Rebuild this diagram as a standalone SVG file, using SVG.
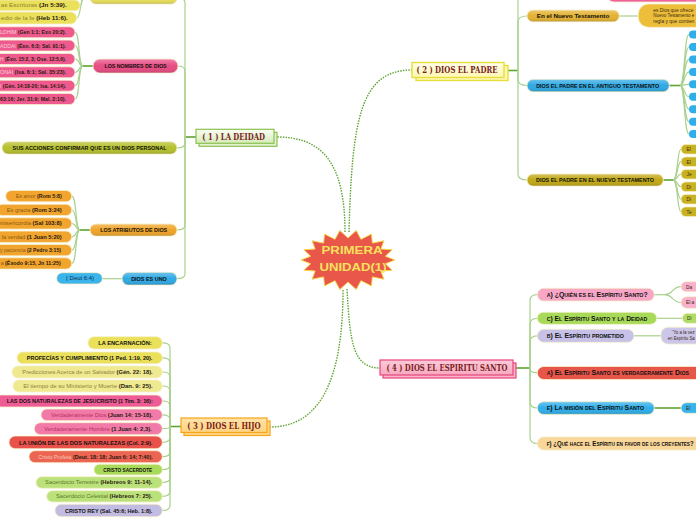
<svg xmlns="http://www.w3.org/2000/svg" width="696" height="520" viewBox="0 0 696 520">
<defs>
<linearGradient id="sh" x1="0" y1="0" x2="0" y2="1">
<stop offset="0" stop-color="#fff" stop-opacity="0.3"/>
<stop offset="0.5" stop-color="#fff" stop-opacity="0"/>
<stop offset="1" stop-color="#000" stop-opacity="0.14"/>
</linearGradient>
<linearGradient id="gDei" x1="0" y1="0" x2="0" y2="1"><stop offset="0" stop-color="#FAFDF4"/><stop offset="1" stop-color="#D4EBB8"/></linearGradient>
<linearGradient id="gPad" x1="0" y1="0" x2="0" y2="1"><stop offset="0" stop-color="#FFFEEA"/><stop offset="1" stop-color="#FFF7B0"/></linearGradient>
<linearGradient id="gHij" x1="0" y1="0" x2="0" y2="1"><stop offset="0" stop-color="#FFE4A8"/><stop offset="1" stop-color="#FFD27E"/></linearGradient>
<linearGradient id="gEsp" x1="0" y1="0" x2="0" y2="1"><stop offset="0" stop-color="#FCCAD8"/><stop offset="1" stop-color="#F7A9C1"/></linearGradient>
</defs>
<style>
.c{fill:none;stroke:#A9D18E;stroke-width:1.2}
.cd{fill:none;stroke:#5FA331;stroke-width:1.6}
.dot{fill:none;stroke:#5FA331;stroke-width:1.4;stroke-dasharray:1.5 1.2}
.p{stroke:#F6EFC8;stroke-width:0.8}
.g{fill:url(#sh)}
.h{font-family:"Liberation Sans",Arial,sans-serif;font-weight:bold;font-size:6px;fill:#111}
.e{font-family:"Liberation Sans",Arial,sans-serif;font-size:5.1px}
.r{font-weight:bold;fill:#2A1A10}
.t{font-family:"DejaVu Serif","Liberation Serif",serif;font-weight:bold;font-size:9px;fill:#7A1D1D}
.sc{font-family:"Liberation Sans",Arial,sans-serif;font-weight:bold;font-size:6.5px;font-variant:small-caps;fill:#111}
.b{font-family:"Liberation Sans",Arial,sans-serif;font-size:4.8px;fill:#3A2A10}
</style>
<rect width="696" height="520" fill="#fff"/>

<g id="connectors">
<path class="dot" d="M349,232 C352,120 360,70 412,70"/>
<path class="dot" d="M345,232 C345,160 320,137 277,137"/>
<path class="dot" d="M347,289 C350,340 352,368 380,368"/>
<path class="dot" d="M343,290 C343,380 320,427 270,427"/>
<path class="cd" d="M196,137 H185"/>
<path class="c" d="M185,137 V3 Q185,-2 177,-2"/>
<path class="c" d="M185,137 V71 Q185,66 178,66"/>
<path class="c" d="M185,137 V143 Q185,148 177,148"/>
<path class="c" d="M185,137 V225 Q185,230 177,230"/>
<path class="c" d="M185,137 V273.7 Q185,278.7 177,278.7"/>
<path class="cd" d="M90,-2 H84"/>
<path class="c" d="M84,-2 C80,-2 83,5.3 80,5.3"/>
<path class="c" d="M84,-2 C80,-2 81,18 76.7,18"/>
<path class="cd" d="M93,66 H83"/>
<path class="c" d="M83,66 C78,66 80,32.3 75,32.3"/>
<path class="c" d="M83,66 C78,66 80,45.6 75,45.6"/>
<path class="c" d="M83,66 C78,66 80,59 75,59"/>
<path class="c" d="M83,66 C78,66 80,72.3 75,72.3"/>
<path class="c" d="M83,66 C78,66 80,85.7 75,85.7"/>
<path class="c" d="M83,66 C78,66 80,99 75,99"/>
<path class="cd" d="M90,230 H80"/>
<path class="c" d="M80,230 C75,230 77,196.2 71.7,196.2"/>
<path class="c" d="M80,230 C75,230 77,210 71.7,210"/>
<path class="c" d="M80,230 C75,230 77,223.5 71.7,223.5"/>
<path class="c" d="M80,230 C75,230 77,236.8 71.7,236.8"/>
<path class="c" d="M80,230 C75,230 77,250.2 71.7,250.2"/>
<path class="c" d="M80,230 C75,230 77,263.5 71.7,263.5"/>
<path class="c" d="M122,278.7 H102.3"/>
<path class="cd" d="M508,70.5 H518"/>
<path class="c" d="M518,70.5 V-12"/>
<path class="c" d="M518,70.5 V22 Q518,16 527,16"/>
<path class="c" d="M518,70.5 V79.5 Q518,85.5 527,85.5"/>
<path class="c" d="M518,70.5 V174 Q518,180 527,180"/>
<path class="c" d="M619.3,16 H638.3"/>
<path class="cd" d="M669.3,85.5 H680"/>
<path class="c" d="M680,85.5 C685,85.5 684,34.5 689,34.5"/>
<path class="c" d="M680,85.5 C685,85.5 684,47 689,47"/>
<path class="c" d="M680,85.5 C685,85.5 684,59.4 689,59.4"/>
<path class="c" d="M680,85.5 C685,85.5 684,71.9 689,71.9"/>
<path class="c" d="M680,85.5 C685,85.5 684,84.3 689,84.3"/>
<path class="c" d="M680,85.5 C685,85.5 684,96.8 689,96.8"/>
<path class="c" d="M680,85.5 C685,85.5 684,109.2 689,109.2"/>
<path class="c" d="M680,85.5 C685,85.5 684,121.7 689,121.7"/>
<path class="c" d="M680,85.5 C685,85.5 684,134.1 689,134.1"/>
<path class="cd" d="M663.3,180 H673"/>
<path class="c" d="M673,180 C678,180 677,149.2 681,149.2"/>
<path class="c" d="M673,180 C678,180 677,161.7 681,161.7"/>
<path class="c" d="M673,180 C678,180 677,174.2 681,174.2"/>
<path class="c" d="M673,180 C678,180 677,186.7 681,186.7"/>
<path class="c" d="M673,180 C678,180 677,199.2 681,199.2"/>
<path class="c" d="M673,180 C678,180 677,211.7 681,211.7"/>
<path class="cd" d="M516,368 H530"/>
<path class="c" d="M530,368 V300.7 Q530,294.7 537.3,294.7"/>
<path class="c" d="M530,368 V324.3 Q530,318.3 537.3,318.3"/>
<path class="c" d="M530,368 V341.8 Q530,335.8 537.3,335.8"/>
<path class="c" d="M530,368 C530,372 532,372.7 537.3,372.7"/>
<path class="c" d="M530,368 V402 Q530,408 537.3,408"/>
<path class="c" d="M530,368 V437.5 Q530,443.5 537.3,443.5"/>
<path class="c" d="M654.3,294.7 H665"/>
<path class="c" d="M665,294.7 C673,294.7 672,286.7 681,286.7"/>
<path class="c" d="M665,294.7 C673,294.7 672,302.5 681,302.5"/>
<path class="c" d="M656.7,318.3 H682.3"/>
<path class="c" d="M634,335.8 H661"/>
<path class="cd" d="M654.3,408 H681"/>
<path class="cd" d="M181,426.5 H170"/>
<path class="c" d="M170,426.5 V347.8 Q170,342.8 162.3,342.8"/>
<path class="c" d="M170,426.5 V362.8 Q170,357.8 162.3,357.8"/>
<path class="c" d="M170,426.5 V377 Q170,372 162.3,372"/>
<path class="c" d="M170,426.5 V391 Q170,386 162.3,386"/>
<path class="c" d="M170,426.5 V406 Q170,401 162.3,401"/>
<path class="c" d="M170,426.5 V419.8 Q170,414.8 162.3,414.8"/>
<path class="c" d="M170,426.5 C170,428 168,428.7 162.3,428.7"/>
<path class="c" d="M170,426.5 V437.3 Q170,442.3 162.3,442.3"/>
<path class="c" d="M170,426.5 V451.7 Q170,456.7 162.3,456.7"/>
<path class="c" d="M170,426.5 V464.7 Q170,469.7 162.3,469.7"/>
<path class="c" d="M170,426.5 V477.5 Q170,482.5 162.3,482.5"/>
<path class="c" d="M170,426.5 V491.3 Q170,496.3 162.3,496.3"/>
<path class="c" d="M170,426.5 V505.5 Q170,510.5 162.3,510.5"/>
</g>

<g id="center">
<polygon points="395,260 385.4,263.8 392.2,270.3 380.9,271 384,279.3 372.4,276.9 371.5,286 361,280.7 356.2,289.6 348,282 339.8,289.6 335,280.7 324.5,286 323.6,276.9 312,279.3 315.1,271 303.8,270.3 310.6,263.8 301,260 310.6,256.2 303.8,249.7 315.1,249 312,240.7 323.6,243.1 324.5,234 335,239.3 339.8,230.4 348,238 356.2,230.4 361,239.3 371.5,234 372.4,243.1 384,240.7 380.9,249 392.2,249.7 385.4,256.2" fill="#E8574A" stroke="#F6DC54" stroke-width="1"/>
<text x="352" y="254.3" text-anchor="middle" font-family="Liberation Sans, Arial, sans-serif" font-weight="bold" font-size="10.5" fill="#F7E15C" textLength="61" lengthAdjust="spacingAndGlyphs">PRIMERA</text>
<text x="353" y="271" text-anchor="middle" font-family="Liberation Sans, Arial, sans-serif" font-weight="bold" font-size="10.5" fill="#F7E15C" textLength="67" lengthAdjust="spacingAndGlyphs">UNIDAD(1)</text>
</g>

<g id="n-deidad">
<rect x="199" y="132.3" width="78" height="14" fill="#E2F1CF" stroke="#8CC152" stroke-width="1.2"/>
<rect x="196" y="129.3" width="78" height="14" fill="url(#gDei)" stroke="#8CC152" stroke-width="1.2"/>
<text class="t" x="233.7" y="139.6" text-anchor="middle" textLength="62.7" lengthAdjust="spacingAndGlyphs">( 1 ) LA DEIDAD</text>
</g>
<g id="n-deidad-top">
<rect class="p" x="90" y="-8" width="87" height="12" rx="6" fill="#EAE05A"/>
<rect class="g" x="90" y="-8" width="87" height="12" rx="6"/>
</g>
<g id="n-escrituras">
<rect class="p" x="-60" y="0" width="140" height="10.7" rx="5.3" fill="#EAE05A"/>
<text class="e" x="66.7" y="7.2" text-anchor="end" textLength="66" lengthAdjust="spacingAndGlyphs"><tspan fill="#8E8030">as Escrituras </tspan><tspan class="r">(Jn 5:39).</tspan></text>
</g>
<g id="n-fe">
<rect class="p" x="-60" y="12" width="136.7" height="12" rx="6" fill="#EAE05A"/>
<text class="e" x="67.7" y="19.9" text-anchor="end" textLength="67" lengthAdjust="spacingAndGlyphs"><tspan fill="#8E8030">edio de la fe </tspan><tspan class="r">(Heb 11:6).</tspan></text>
</g>
<g id="n-nombres">
<rect class="p" x="93" y="59" width="85" height="14" rx="7" fill="#E84B82"/>
<rect class="g" x="93" y="59" width="85" height="14" rx="7"/>
<text class="h" x="135.5" y="68.1" text-anchor="middle" textLength="62" lengthAdjust="spacingAndGlyphs">LOS NOMBRES DE DIOS</text>
</g>
<g id="n-nombres-1"><rect class="p" x="-40" y="26.8" width="115" height="11" rx="5.5" fill="#EE5A8E"/>
<text class="e" x="66" y="34.2" text-anchor="end" textLength="66" lengthAdjust="spacingAndGlyphs"><tspan fill="#FAD0DC">LOHIM </tspan><tspan class="r" fill="#3A0A1A">(Gen 1:1; Exo 20:2).</tspan></text></g>
<g id="n-nombres-2"><rect class="p" x="-40" y="40.1" width="115" height="11" rx="5.5" fill="#EE5A8E"/>
<text class="e" x="66" y="47.5" text-anchor="end" textLength="66" lengthAdjust="spacingAndGlyphs"><tspan fill="#FAD0DC">ADDAI </tspan><tspan class="r" fill="#3A0A1A">(Éxo. 6:3; Sal. 91:1).</tspan></text></g>
<g id="n-nombres-3"><rect class="p" x="-40" y="53.5" width="115" height="11" rx="5.5" fill="#EE5A8E"/>
<text class="e" x="66" y="60.9" text-anchor="end" textLength="66" lengthAdjust="spacingAndGlyphs"><tspan fill="#FAD0DC">H </tspan><tspan class="r" fill="#3A0A1A">(Éxo. 15:2, 3; Ose. 12:5,6).</tspan></text></g>
<g id="n-nombres-4"><rect class="p" x="-40" y="66.8" width="115" height="11" rx="5.5" fill="#EE5A8E"/>
<text class="e" x="66" y="74.2" text-anchor="end" textLength="66" lengthAdjust="spacingAndGlyphs"><tspan fill="#FAD0DC">ONAI </tspan><tspan class="r" fill="#3A0A1A">(Isa. 6:1; Sal. 35:23).</tspan></text></g>
<g id="n-nombres-5"><rect class="p" x="-40" y="80.2" width="115" height="11" rx="5.5" fill="#EE5A8E"/>
<text class="e" x="66" y="87.6" text-anchor="end" textLength="66" lengthAdjust="spacingAndGlyphs"><tspan fill="#FAD0DC">I </tspan><tspan class="r" fill="#3A0A1A">(Gén. 14:18-20; Isa. 14:14).</tspan></text></g>
<g id="n-nombres-6"><rect class="p" x="-40" y="93.5" width="115" height="11" rx="5.5" fill="#EE5A8E"/>
<text class="e" x="66" y="100.9" text-anchor="end" textLength="66" lengthAdjust="spacingAndGlyphs"><tspan class="r" fill="#3A0A1A">63:16; Jer. 31:9; Mal. 2:10).</tspan></text></g>
<g id="n-acciones">
<rect class="p" x="2" y="141.7" width="175" height="12.3" rx="6.2" fill="#B6C02C"/>
<rect class="g" x="2" y="141.7" width="175" height="12.3" rx="6.2"/>
<text class="h" x="89.5" y="150.1" text-anchor="middle" textLength="154" lengthAdjust="spacingAndGlyphs">SUS ACCIONES CONFIRMAR QUE ES UN DIOS PERSONAL</text>
</g>
<g id="n-atributos">
<rect class="p" x="90" y="224" width="87" height="12" rx="6" fill="#F0A428"/>
<rect class="g" x="90" y="224" width="87" height="12" rx="6"/>
<text class="h" x="133.7" y="232.2" text-anchor="middle" textLength="67" lengthAdjust="spacingAndGlyphs">LOS ATRIBUTOS DE DIOS</text>
</g>
<g id="n-atr-1"><rect class="p" x="5.7" y="190.5" width="66" height="11.3" rx="5.6" fill="#F2A52E"/>
<text class="e" x="61.7" y="198.1" text-anchor="end" textLength="46" lengthAdjust="spacingAndGlyphs"><tspan fill="#8B5A10">Es amor </tspan><tspan class="r">(Rom 5:8)</tspan></text></g>
<g id="n-atr-2"><rect class="p" x="-3" y="204.3" width="74.7" height="11.3" rx="5.6" fill="#F2A52E"/>
<text class="e" x="61.7" y="211.9" text-anchor="end" textLength="55" lengthAdjust="spacingAndGlyphs"><tspan fill="#8B5A10">Es gracia </tspan><tspan class="r">(Rom 3:24)</tspan></text></g>
<g id="n-atr-3"><rect class="p" x="-40" y="217.8" width="111.7" height="11.3" rx="5.6" fill="#F2A52E"/>
<text class="e" x="61.7" y="225.4" text-anchor="end" textLength="62" lengthAdjust="spacingAndGlyphs"><tspan fill="#8B5A10">misericordia </tspan><tspan class="r">(Sal 103:8)</tspan></text></g>
<g id="n-atr-4"><rect class="p" x="-40" y="231.1" width="111.7" height="11.3" rx="5.6" fill="#F2A52E"/>
<text class="e" x="61.7" y="238.7" text-anchor="end" textLength="60" lengthAdjust="spacingAndGlyphs"><tspan fill="#8B5A10">la verdad </tspan><tspan class="r">(1 Juan 5:20)</tspan></text></g>
<g id="n-atr-5"><rect class="p" x="-40" y="244.5" width="111.7" height="11.3" rx="5.6" fill="#F2A52E"/>
<text class="e" x="61" y="252.1" text-anchor="end" textLength="61" lengthAdjust="spacingAndGlyphs"><tspan fill="#8B5A10">y paciencia </tspan><tspan class="r">(2 Pedro 3:15)</tspan></text></g>
<g id="n-atr-6"><rect class="p" x="-40" y="257.8" width="111.7" height="11.3" rx="5.6" fill="#F2A52E"/>
<text class="e" x="60.7" y="265.4" text-anchor="end" textLength="60" lengthAdjust="spacingAndGlyphs"><tspan fill="#8B5A10">a </tspan><tspan class="r">(Éxodo 9:15, Jn 11:25)</tspan></text></g>
<g id="n-uno">
<rect class="p" x="122" y="272.3" width="55" height="12.7" rx="6.3" fill="#2FA9E4"/>
<rect class="g" x="122" y="272.3" width="55" height="12.7" rx="6.3"/>
<text class="h" x="149" y="280.9" text-anchor="middle" textLength="35.7" lengthAdjust="spacingAndGlyphs">DIOS ES UNO</text>
</g>
<g id="n-deut">
<rect class="p" x="56.7" y="272.7" width="45.6" height="11.3" rx="5.6" fill="#3BB4EC"/>
<text class="e" x="80" y="280.3" text-anchor="middle" fill="#0E2E50" textLength="28" lengthAdjust="spacingAndGlyphs">( Deut 6:4)</text>
</g>

<g id="n-padre">
<rect x="416" y="65.5" width="92" height="15" fill="#FFF8B8" stroke="#E6DE3A" stroke-width="1.4"/>
<rect x="412" y="62.5" width="92" height="15" fill="url(#gPad)" stroke="#E6DE3A" stroke-width="1.4"/>
<text class="t" x="457" y="73.4" text-anchor="middle" textLength="81" lengthAdjust="spacingAndGlyphs">( 2 ) DIOS EL PADRE</text>
</g>
<g id="n-padre-top"><rect class="p" x="607" y="-12" width="100" height="14" rx="7" fill="#F0609A"/></g>
<g id="n-en-nt">
<rect class="p" x="527" y="10" width="92.3" height="11.7" rx="5.8" fill="#E4B232"/>
<rect class="g" x="527" y="10" width="92.3" height="11.7" rx="5.8"/>
<text class="h" x="573" y="18" text-anchor="middle" textLength="72.6" lengthAdjust="spacingAndGlyphs">En el Nuevo Testamento</text>
</g>
<g id="n-en-nt-txt">
<rect class="p" x="638.3" y="4" width="80" height="23.3" rx="10" fill="#EDBE3A"/>
<text class="b" x="653.3" y="11.6" textLength="40" lengthAdjust="spacingAndGlyphs">es Dios que ofrece</text>
<text class="b" x="653.3" y="17.4" textLength="41" lengthAdjust="spacingAndGlyphs">Nuevo Testamento e</text>
<text class="b" x="653.3" y="23.3" textLength="41" lengthAdjust="spacingAndGlyphs">regla y que contien</text>
</g>
<g id="n-antiguo">
<rect class="p" x="527" y="79.3" width="142.3" height="12.4" rx="6.2" fill="#2FA9E4"/>
<rect class="g" x="527" y="79.3" width="142.3" height="12.4" rx="6.2"/>
<text class="h" x="597.7" y="87.6" text-anchor="middle" textLength="123" lengthAdjust="spacingAndGlyphs">DIOS EL PADRE EN EL ANTIGUO TESTAMENTO</text>
</g>
<g id="n-antiguo-items" fill="#2EAEEA">
<rect x="689" y="30.5" width="20" height="8" rx="4"/>
<rect x="689" y="43" width="20" height="8" rx="4"/>
<rect x="689" y="55.4" width="20" height="8" rx="4"/>
<rect x="689" y="67.9" width="20" height="8" rx="4"/>
<rect x="689" y="80.3" width="20" height="8" rx="4"/>
<rect x="689" y="92.8" width="20" height="8" rx="4"/>
<rect x="689" y="105.2" width="20" height="8" rx="4"/>
<rect x="689" y="117.7" width="20" height="8" rx="4"/>
<rect x="689" y="130.1" width="20" height="8" rx="4"/>
</g>
<g id="n-nuevo">
<rect class="p" x="527" y="174" width="136.3" height="12" rx="6" fill="#C1A814"/>
<rect class="g" x="527" y="174" width="136.3" height="12" rx="6"/>
<text class="h" x="595" y="182.2" text-anchor="middle" textLength="118" lengthAdjust="spacingAndGlyphs">DIOS EL PADRE EN EL NUEVO TESTAMENTO</text>
</g>
<g id="n-nuevo-items">
<rect class="p" x="681" y="144.4" width="30" height="9.7" rx="4.8" fill="#C9B222"/>
<rect class="p" x="681" y="156.9" width="30" height="9.7" rx="4.8" fill="#C9B222"/>
<rect class="p" x="681" y="169.4" width="30" height="9.7" rx="4.8" fill="#C9B222"/>
<rect class="p" x="681" y="181.9" width="30" height="9.7" rx="4.8" fill="#C9B222"/>
<rect class="p" x="681" y="194.4" width="30" height="9.7" rx="4.8" fill="#C9B222"/>
<rect class="p" x="681" y="206.9" width="30" height="9.7" rx="4.8" fill="#C9B222"/>
<text class="b" x="686.5" y="151" fill="#4A3A00">El</text>
<text class="b" x="686.5" y="163.5" fill="#4A3A00">El</text>
<text class="b" x="686.5" y="176" fill="#4A3A00">Je</text>
<text class="b" x="686.5" y="188.5" fill="#4A3A00">Di</text>
<text class="b" x="686.5" y="201" fill="#4A3A00">Di</text>
<text class="b" x="686.5" y="213.5" fill="#4A3A00">Te</text>
</g>

<g id="n-espiritu">
<rect x="383" y="363" width="133" height="15" fill="#F8B4C8" stroke="#E8457A" stroke-width="1.2"/>
<rect x="380" y="360" width="133" height="15" fill="url(#gEsp)" stroke="#E8457A" stroke-width="1.2"/>
<text class="t" x="447" y="371" text-anchor="middle" textLength="121" lengthAdjust="spacingAndGlyphs">( 4 ) DIOS EL ESPIRITU SANTO</text>
</g>
<g id="n-quien">
<rect class="p" x="537.3" y="288.3" width="117" height="12.7" rx="6.3" fill="#F7A6C6"/>
<text class="sc" x="546.7" y="297" textLength="101" lengthAdjust="spacingAndGlyphs">a) ¿Quién es el Espíritu Santo?</text>
</g>
<g id="n-quien-1"><rect class="p" x="681" y="281.7" width="30" height="10" rx="5" fill="#F8B0CC"/><text class="b" x="686" y="288.5" fill="#6A3A4A">Da</text></g>
<g id="n-quien-2"><rect class="p" x="681" y="296.7" width="30" height="11.6" rx="5.8" fill="#F8B0CC"/><text class="b" x="686" y="304.2" fill="#6A3A4A">El a</text></g>
<g id="n-deidad-esp">
<rect class="p" x="537.3" y="312.3" width="119.4" height="12" rx="6" fill="#A6DA58"/>
<text class="sc" x="546.7" y="320.6" textLength="100.6" lengthAdjust="spacingAndGlyphs">c) El Espíritu Santo y la Deidad</text>
</g>
<g id="n-deidad-esp-1"><rect class="p" x="682.3" y="313.3" width="30" height="10" rx="5" fill="#AEDD66"/><text class="b" x="687" y="320" fill="#3A4A1A">Di</text></g>
<g id="n-prometido">
<rect class="p" x="537.3" y="329.3" width="96.7" height="13" rx="6.5" fill="#C7C1E8"/>
<text class="sc" x="546.7" y="338.2" textLength="77.3" lengthAdjust="spacingAndGlyphs">b) El Espíritu prometido</text>
</g>
<g id="n-prometido-1">
<rect class="p" x="661" y="327.3" width="60" height="16.7" rx="7" fill="#CBC6EA"/>
<text class="b" x="671.7" y="333.6" font-size="4.5" fill="#3A3050" textLength="23" lengthAdjust="spacingAndGlyphs">“Yo a la vez</text>
<text class="b" x="667.7" y="340.2" font-size="4.5" fill="#3A3050" textLength="27" lengthAdjust="spacingAndGlyphs">en Espíritu Sa</text>
</g>
<g id="n-verdadero">
<rect class="p" x="537.3" y="366.5" width="170" height="13" rx="6.5" fill="#E8564A"/>
<text class="sc" x="546.7" y="375.3" textLength="142.3" lengthAdjust="spacingAndGlyphs">a) El Espíritu Santo es verdaderamente Dios</text>
</g>
<g id="n-mision">
<rect class="p" x="537.3" y="401.7" width="117" height="12.6" rx="6.3" fill="#2EAEEA"/>
<rect class="g" x="537.3" y="401.7" width="117" height="12.6" rx="6.3"/>
<text class="sc" x="546.7" y="410.3" textLength="97.3" lengthAdjust="spacingAndGlyphs">e) La misión del Espíritu Santo</text>
</g>
<g id="n-mision-1"><rect class="p" x="681" y="402.7" width="30" height="10.6" rx="5.3" fill="#38B2EC"/><text class="b" x="686" y="409.8" fill="#0E2E50">El</text></g>
<g id="n-que-hace">
<rect class="p" x="537.3" y="437" width="190" height="13" rx="6.5" fill="#F9D699"/>
<text class="sc" x="546.7" y="445.8" textLength="147" lengthAdjust="spacingAndGlyphs">f) ¿Qué hace el Espíritu en favor de los creyentes?</text>
</g>

<g id="n-hijo">
<rect x="184" y="421" width="86" height="14.5" fill="#FFD88C" stroke="#F7A51A" stroke-width="1.2"/>
<rect x="181" y="418" width="86" height="14.5" fill="url(#gHij)" stroke="#F7A51A" stroke-width="1.2"/>
<text class="t" x="224" y="428.6" text-anchor="middle" textLength="73.4" lengthAdjust="spacingAndGlyphs">( 3 ) DIOS EL HIJO</text>
</g>
<g id="n-h1"><rect class="p" x="88" y="336.7" width="74.3" height="12.3" rx="6.1" fill="#EAE05A"/>
<text class="h" x="125" y="345" text-anchor="middle" textLength="53.4" lengthAdjust="spacingAndGlyphs">LA ENCARNACIÓN:</text></g>
<g id="n-h2"><rect class="p" x="17" y="352" width="145.3" height="11.7" rx="5.8" fill="#EAE05A"/>
<text class="h" x="89.6" y="360" text-anchor="middle" textLength="125.6" lengthAdjust="spacingAndGlyphs">PROFECÍAS Y CUMPLIMIENTO (1 Ped. 1:19, 20).</text></g>
<g id="n-h3"><rect class="p" x="12" y="366" width="150.3" height="12" rx="6" fill="#EFEA90"/>
<text class="e" x="87.5" y="373.9" text-anchor="middle" textLength="130.4" lengthAdjust="spacingAndGlyphs"><tspan fill="#8C8040">Predicciones Acerca de un Salvador </tspan><tspan class="r">(Gén. 22: 18).</tspan></text></g>
<g id="n-h4"><rect class="p" x="13" y="380" width="149.3" height="12" rx="6" fill="#EFEA90"/>
<text class="e" x="88" y="387.9" text-anchor="middle" textLength="129.4" lengthAdjust="spacingAndGlyphs"><tspan fill="#8C8040">El tiempo de su Ministerio y Muerte </tspan><tspan class="r">(Dan. 9: 25).</tspan></text></g>
<g id="n-h5"><rect class="p" x="-5" y="395" width="167.3" height="12" rx="6" fill="#EE5C96"/>
<text class="h" x="79.7" y="403.1" text-anchor="middle" textLength="146" lengthAdjust="spacingAndGlyphs">LAS DOS NATURALEZAS DE JESUCRISTO (1 Tim. 3: 16):</text></g>
<g id="n-h6"><rect class="p" x="41" y="409" width="121.3" height="11.7" rx="5.8" fill="#F27AA8"/>
<text class="e" x="101.8" y="416.8" text-anchor="middle" textLength="101.7" lengthAdjust="spacingAndGlyphs"><tspan fill="#B8305E">Verdaderamente Dios </tspan><tspan class="r" fill="#3A0A1A">(Juan 14: 15-18).</tspan></text></g>
<g id="n-h7"><rect class="p" x="34.3" y="422.7" width="128" height="12" rx="6" fill="#F27AA8"/>
<text class="e" x="98" y="430.6" text-anchor="middle" textLength="107.4" lengthAdjust="spacingAndGlyphs"><tspan fill="#B8305E">Verdaderamente Hombre </tspan><tspan class="r" fill="#3A0A1A">(1 Juan 4: 2,3).</tspan></text></g>
<g id="n-h8"><rect class="p" x="9" y="436" width="153.3" height="12.7" rx="6.3" fill="#E8524A"/>
<text class="h" x="85.7" y="444.5" text-anchor="middle" textLength="133.3" lengthAdjust="spacingAndGlyphs">LA UNIÓN DE LAS DOS NATURALEZAS (Col. 2:9).</text></g>
<g id="n-h9"><rect class="p" x="29" y="450.7" width="133.3" height="12" rx="6" fill="#EC6452"/>
<text class="e" x="95.5" y="458.6" text-anchor="middle" textLength="114.4" lengthAdjust="spacingAndGlyphs"><tspan fill="#F9C8B8">Cristo Profeta </tspan><tspan class="r" fill="#3A0A0A">(Deut. 18: 18; Juan 6: 14; 7:40).</tspan></text></g>
<g id="n-h10"><rect class="p" x="94" y="464.3" width="68.3" height="10.7" rx="5.3" fill="#A9DA5A"/>
<text class="h" x="127.8" y="471.5" text-anchor="middle" font-size="5" textLength="49" lengthAdjust="spacingAndGlyphs">CRISTO SACERDOTE</text></g>
<g id="n-h11"><rect class="p" x="36" y="476.7" width="126.3" height="11.6" rx="5.8" fill="#BBE27A"/>
<text class="e" x="98.7" y="484.4" text-anchor="middle" textLength="107.3" lengthAdjust="spacingAndGlyphs"><tspan fill="#5A7A2A">Sacerdocio Terrestre </tspan><tspan class="r">(Hebreos 9: 11-14).</tspan></text></g>
<g id="n-h12"><rect class="p" x="46.7" y="490.7" width="115.6" height="11.3" rx="5.6" fill="#BBE27A"/>
<text class="e" x="104.2" y="498.2" text-anchor="middle" textLength="96.3" lengthAdjust="spacingAndGlyphs"><tspan fill="#5A7A2A">Sacerdocio Celestial </tspan><tspan class="r">(Hebreos 7: 25).</tspan></text></g>
<g id="n-h13"><rect class="p" x="55" y="504.3" width="107.3" height="12.4" rx="6.2" fill="#C3BCE2"/>
<text class="h" x="108.7" y="512.6" text-anchor="middle" textLength="87.3" lengthAdjust="spacingAndGlyphs">CRISTO REY (Sal. 45:6; Heb. 1:8).</text></g>
</svg>
